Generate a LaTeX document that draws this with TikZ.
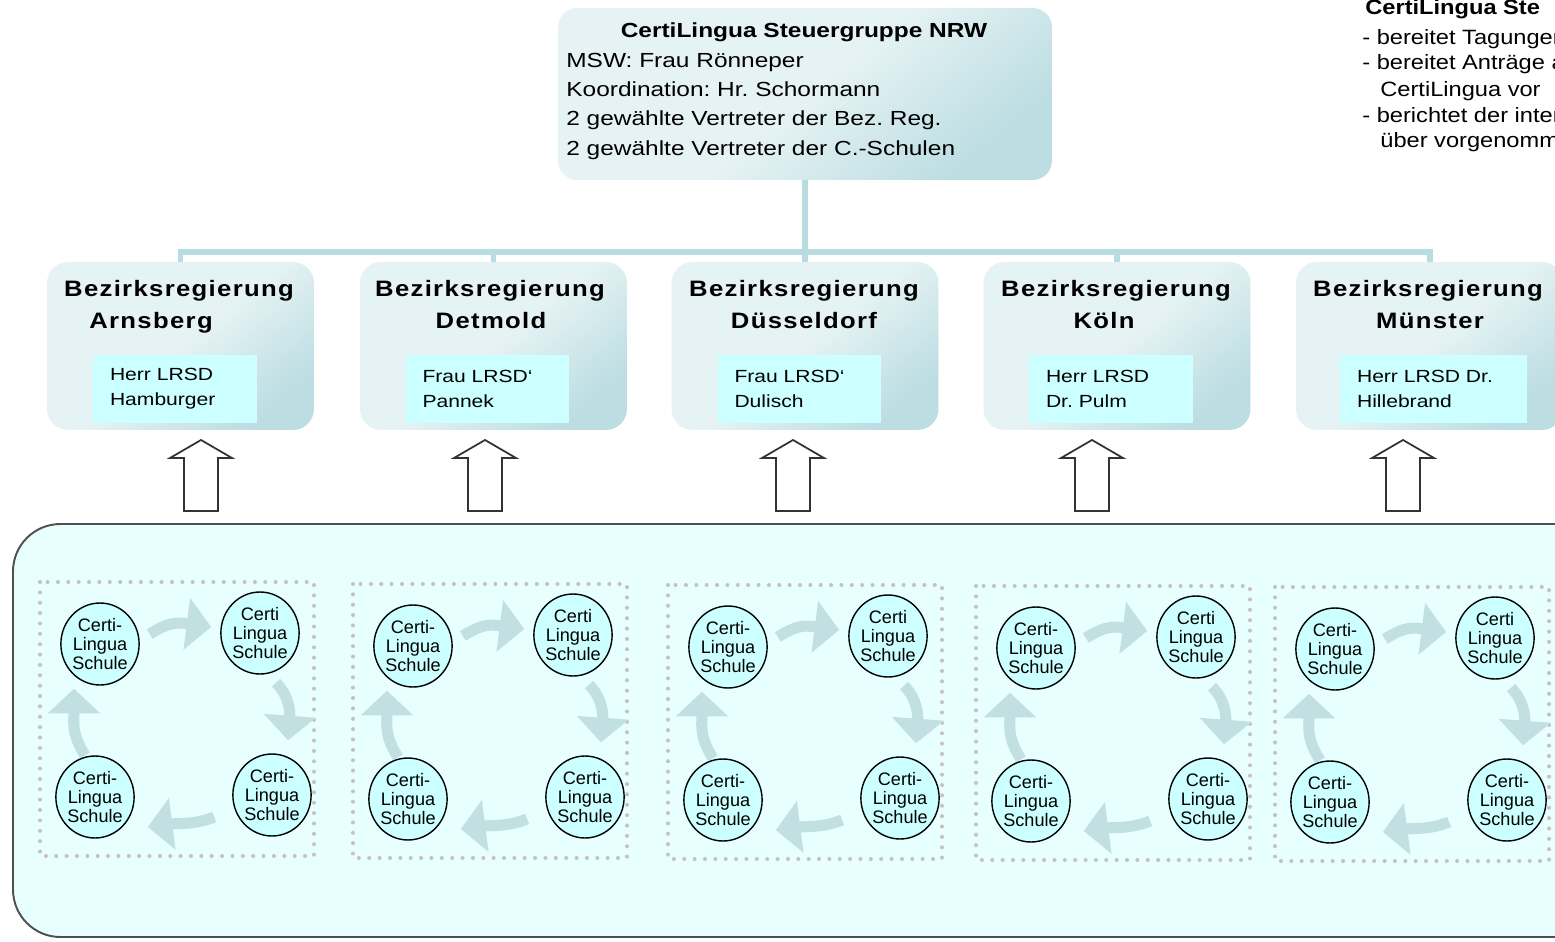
\documentclass[tikz,border=0pt]{standalone}
\usepackage{fontspec}
\setmainfont{Liberation Sans}
\newfontfamily\boxfont{Liberation Sans}[FakeStretch=1.2]
\newfontfamily\regfont{Liberation Sans}[FakeStretch=1.15,LetterSpace=6]
\newfontfamily\notefont{Liberation Sans}[FakeStretch=1.14]
\usetikzlibrary{shapes.geometric}
\usetikzlibrary{arrows.meta}
\usetikzlibrary{calc}
\frenchspacing

\definecolor{lineteal}{HTML}{B7DDE2}
\definecolor{boxlight}{HTML}{E6F3F4}
\definecolor{boxdark}{HTML}{BCDDE2}
\definecolor{namecyan}{HTML}{CCFFFF}
\definecolor{poolcyan}{HTML}{E8FFFF}
\definecolor{cycleteal}{HTML}{C2DFE2}
\definecolor{dotgray}{HTML}{C9C1C1}
\definecolor{rimgray}{HTML}{505050}

\begin{document}
\begin{tikzpicture}[x=0.02cm, y=-0.02cm,
    conn/.style={lineteal, line width=3.4pt},
    steerbox/.style={rounded corners=11pt, top color=boxlight, bottom color=boxdark, middle color=boxlight, shading angle=40, minimum width=9.88cm, minimum height=3.44cm, inner sep=0pt},
    steertitle/.style={anchor=base, inner sep=0pt, font=\boxfont\bfseries\fontsize{11.6}{14}\selectfont},
    steertext/.style={anchor=base west, inner sep=0pt, font=\boxfont\fontsize{11.6}{14}\selectfont},
    regbox/.style={rounded corners=12pt, top color=boxlight, bottom color=boxdark, middle color=boxlight, shading angle=40, minimum width=5.34cm, minimum height=3.36cm, inner sep=0pt},
    regtitle/.style={anchor=base, inner sep=0pt, font=\regfont\bfseries\fontsize{12.7}{15}\selectfont},
    namebox/.style={fill=namecyan, text width=2.6cm, inner xsep=0.34cm, inner ysep=0pt, minimum height=1.36cm, align=left, font=\boxfont\fontsize{10}{14.2}\selectfont},
    uparrow/.style={draw=black!80, line width=1pt, fill=white},
    pool/.style={draw=rimgray, line width=1.1pt, fill=poolcyan, rounded corners=27pt},
    dotbox/.style={dotgray, line width=2.3pt, line cap=round, dash pattern=on 0pt off 5.9pt},
    school/.style={ellipse, draw=black, line width=0.8pt, fill=namecyan, minimum width=1.5cm, minimum height=1.64cm, inner sep=0pt, align=center, font=\fontsize{10.3}{11}\selectfont},
    cyc/.style={cycleteal, line width=6.3pt, -{Triangle[width=29pt,length=14pt]}},
    note/.style={anchor=base west, inner sep=0pt, font=\notefont\fontsize{11.8}{14}\selectfont}
    ]
    \useasboundingbox (0,0) rectangle (1555,942);
    \clip (0,0) rectangle (1555,942);
    \fill[white] (0,0) rectangle (1555,942);

    % Steuergruppe
    \node[steerbox] (steuer) at (805,94) {};
    \node[steertitle] (steuertitel) at (804,38) {CertiLingua Steuergruppe NRW};
    \node[steertext] (msw) at (566,68) {MSW: Frau Rönneper};
    \node[steertext] (koord) at (566,97) {Koordination: Hr. Schormann};
    \node[steertext] (vertreg) at (566,126) {2 gewählte Vertreter der Bez. Reg.};
    \node[steertext] (vertschul) at (566,156) {2 gewählte Vertreter der C.-Schulen};

    % Aufgaben (rechts, abgeschnitten)
    \node[note, font=\notefont\bfseries\fontsize{11.8}{14}\selectfont] (aufgaben) at (1365,15) {CertiLingua Ste};
    \node[note] (auf1) at (1362,45) {- bereitet Tagungen};
    \node[note] (auf2) at (1362,70) {- bereitet Anträge a};
    \node[note] (auf2b) at (1380,97) {CertiLingua vor};
    \node[note] (auf3) at (1362,123) {- berichtet der inter};
    \node[note] (auf3b) at (1380,148) {über vorgenomm};

    % Bezirksregierungen
    \coordinate (bus) at (805,252);
    \node[regbox] (arnsberg) at (180.5,346) {};
    \node[regbox] (detmold) at (493.5,346) {};
    \node[regbox] (duesseldorf) at (805,346) {};
    \node[regbox] (koeln) at (1117,346) {};
    \node[regbox] (muenster) at (1429.5,346) {};
    \draw[conn] (steuer.south) -- (bus);
    \foreach \reg in {arnsberg,detmold,duesseldorf,koeln,muenster}
        \draw[conn] (\reg.north) |- (bus);

    \node[regtitle] (arnsbergtitel) at (179,297) {Bezirksregierung};
    \node[regtitle] (arnsbergname) at (151,329) {Arnsberg};
    \node[regtitle] (detmoldtitel) at (490,297) {Bezirksregierung};
    \node[regtitle] (detmoldname) at (491,329) {Detmold};
    \node[regtitle] (duesseldorftitel) at (804,297) {Bezirksregierung};
    \node[regtitle] (duesseldorfname) at (804,329) {Düsseldorf};
    \node[regtitle] (koelntitel) at (1116,297) {Bezirksregierung};
    \node[regtitle] (koelnname) at (1104,329) {Köln};
    \node[regtitle] (muenstertitel) at (1428,297) {Bezirksregierung};
    \node[regtitle] (muenstername) at (1430,329) {Münster};

    \node[namebox] (arnsbergleiter) at (175,389) {Herr LRSD\\Hamburger};
    \node[namebox] (detmoldleiter) at (487.5,389) {Frau LRSD‘\\Pannek};
    \node[namebox] (duesseldorfleiter) at (799.5,389) {Frau LRSD‘\\Dulisch};
    \node[namebox] (koelnleiter) at (1111,389) {Herr LRSD\\Dr. Pulm};
    \node[namebox, text width=3.06cm] (muensterleiter) at (1433.5,389) {Herr LRSD Dr.\\Hillebrand};

    % Pfeile nach oben
    \foreach \ax in {201,485,793,1092,1403}
        \draw[uparrow] (\ax-17,511) -- (\ax-17,458) -- (\ax-31,458) -- (\ax,440)
            -- (\ax+31,458) -- (\ax+17,458) -- (\ax+17,511) -- cycle;

    % CertiLingua Schulen
    \draw[pool] (13,524) rectangle (1620,937);
    \foreach \dx/\dy [count=\g] in {0/0,313/2,628/3,936/4,1235/5}
    {
    \begin{scope}[shift={(\dx,\dy)}]
        \draw[dotbox] (40,582) rectangle (314,856);
        \node[school] (tl\g) at (100,644) {Certi-\\Lingua\\Schule};
        \node[school] (tr\g) at (260,633) {Certi\\Lingua\\Schule};
        \node[school] (br\g) at (272,795) {Certi-\\Lingua\\Schule};
        \node[school] (bl\g) at (95,797) {Certi-\\Lingua\\Schule};
        \draw[cyc] ($(tl\g.east)+(10,-10)$) .. controls ($(tl\g.east)+(32,-24)$) and ($(tr\g.west)+(-40,-10)$) .. ($(tr\g.west)+(-9,-6)$);
        \draw[cyc] ($(tr\g.south)+(16,8)$) .. controls ($(tr\g.south)+(30,22)$) and ($(br\g.north)+(18,-40)$) .. ($(br\g.north)+(16,-13)$);
        \draw[cyc] ($(br\g.west)+(-18,22)$) .. controls ($(br\g.west)+(-38,30)$) and ($(bl\g.east)+(44,26)$) .. ($(bl\g.east)+(13,30)$);
        \draw[cyc] ($(bl\g.north)+(-10,0)$) .. controls ($(bl\g.north)+(-24,-22)$) and ($(tl\g.south)+(-26,36)$) .. ($(tl\g.south)+(-26,3)$);
    \end{scope}
    }
\end{tikzpicture}
\end{document}
